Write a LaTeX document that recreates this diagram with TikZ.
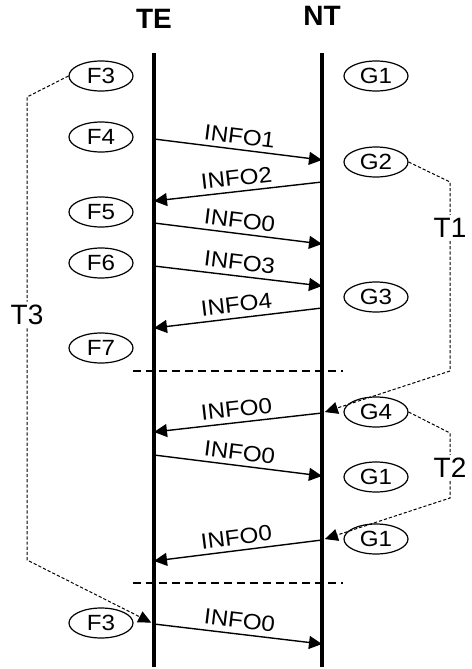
\documentclass[tikz,border=0pt]{standalone}
\usepackage{fontspec}
\setmainfont{Liberation Sans}
\usepackage{graphicx}
\usetikzlibrary{arrows.meta,shapes.geometric}
\newcommand{\hwide}[1]{\scalebox{1.1}[1]{#1}}
\tikzset{
  lifeline/.style={line width=1.6pt, draw=black},
  entity/.style={font=\bfseries\fontsize{14}{16}\selectfont},
  msg/.style={line width=0.7pt, draw=black, -{Triangle[length=6.5pt, width=6.5pt]}},
  msglabel/.style={font=\fontsize{11}{12}\selectfont, midway, above=2.5pt, sloped, inner sep=0pt},
  state/.style={ellipse, draw=black, line width=0.6pt, minimum width=32pt, minimum height=15pt, inner sep=0pt, font=\fontsize{11}{12}\selectfont},
  timer/.style={line width=0.5pt, draw=black, dash pattern=on 1.6pt off 1pt},
  timerarrow/.style={timer, -{Triangle[length=6.5pt, width=6pt]}, shorten >=1.5pt},
  timerlabel/.style={font=\fontsize{14}{16}\selectfont, inner sep=1.5pt},
  phase/.style={line width=0.7pt, draw=black, dash pattern=on 4pt off 2.5pt},
}

\begin{document}
\begin{tikzpicture}[x=0.5pt, y=-0.5pt]
\useasboundingbox (0,0) rectangle (471,669);
% entities and lifelines
\node[entity] (TE) at (154,19) {TE};
\node[entity] (NT) at (322,16) {NT};
\coordinate (TEtop) at (154,53);
\coordinate (TEbot) at (154,667);
\coordinate (NTtop) at (322,53);
\coordinate (NTbot) at (322,667);
\draw[lifeline] (TEtop) -- (TEbot);
\draw[lifeline] (NTtop) -- (NTbot);
% states
\node[state] (F3a) at (101,76) {\hwide{F3}};
\node[state] (G1a) at (376,76) {\hwide{G1}};
\node[state] (F4) at (101,137) {\hwide{F4}};
\node[state] (G2) at (376,162) {\hwide{G2}};
\node[state] (F5) at (101,212) {\hwide{F5}};
\node[state] (F6) at (101,263) {\hwide{F6}};
\node[state] (G3) at (376,297) {\hwide{G3}};
\node[state] (F7) at (101,348) {\hwide{F7}};
\node[state] (G4) at (376,412) {\hwide{G4}};
\node[state] (G1b) at (376,477) {\hwide{G1}};
\node[state] (G1c) at (376,539) {\hwide{G1}};
\node[state] (F3b) at (101,623) {\hwide{F3}};
% message points
\coordinate (te1) at (154,139); \coordinate (nt1) at (322,160);
\coordinate (nt2) at (322,182); \coordinate (te2) at (154,201);
\coordinate (te3) at (154,223); \coordinate (nt3) at (322,244);
\coordinate (te4) at (154,266); \coordinate (nt4) at (322,286);
\coordinate (nt5) at (322,308); \coordinate (te5) at (154,328);
\coordinate (nt6) at (322,413); \coordinate (te6) at (154,432);
\coordinate (te7) at (154,455); \coordinate (nt7) at (322,476);
\coordinate (nt8) at (322,540); \coordinate (te8) at (154,561);
\coordinate (te9) at (154,624); \coordinate (nt9) at (322,644);
% messages
\draw[msg] (te1) -- (nt1) node[msglabel] {\hwide{INFO1}};
\draw[msg] (nt2) -- (te2) node[msglabel] {\hwide{INFO2}};
\draw[msg] (te3) -- (nt3) node[msglabel] {\hwide{INFO0}};
\draw[msg] (te4) -- (nt4) node[msglabel] {\hwide{INFO3}};
\draw[msg] (nt5) -- (te5) node[msglabel] {\hwide{INFO4}};
\draw[msg] (nt6) -- (te6) node[msglabel] {\hwide{INFO0}};
\draw[msg] (te7) -- (nt7) node[msglabel] {\hwide{INFO0}};
\draw[msg] (nt8) -- (te8) node[msglabel] {\hwide{INFO0}};
\draw[msg] (te9) -- (nt9) node[msglabel] {\hwide{INFO0}};
% phase separators
\coordinate (sep1l) at (133,371); \coordinate (sep1r) at (343,371);
\coordinate (sep2l) at (133,583); \coordinate (sep2r) at (343,583);
\draw[phase] (sep1l) -- (sep1r);
\draw[phase] (sep2l) -- (sep2r);
% timers
\node[timerlabel] (T1) at (450,228) {T1};
\node[timerlabel] (T2) at (450,468) {T2};
\node[timerlabel] (T3) at (27,315) {T3};
\draw[timer] (G2.east) -- (450,182) -- (T1.north);
\draw[timerarrow] (T1.south) -- (450,371) -- (nt6);
\draw[timer] (G4.east) -- (450,433) -- (T2.north);
\draw[timerarrow] (T2.south) -- (450,498) -- (nt8);
\draw[timer] (F3a.west) -- (27,97) -- (T3.north);
\draw[timerarrow] (T3.south) -- (27,560) -- (te9);
\end{tikzpicture}
\end{document}
